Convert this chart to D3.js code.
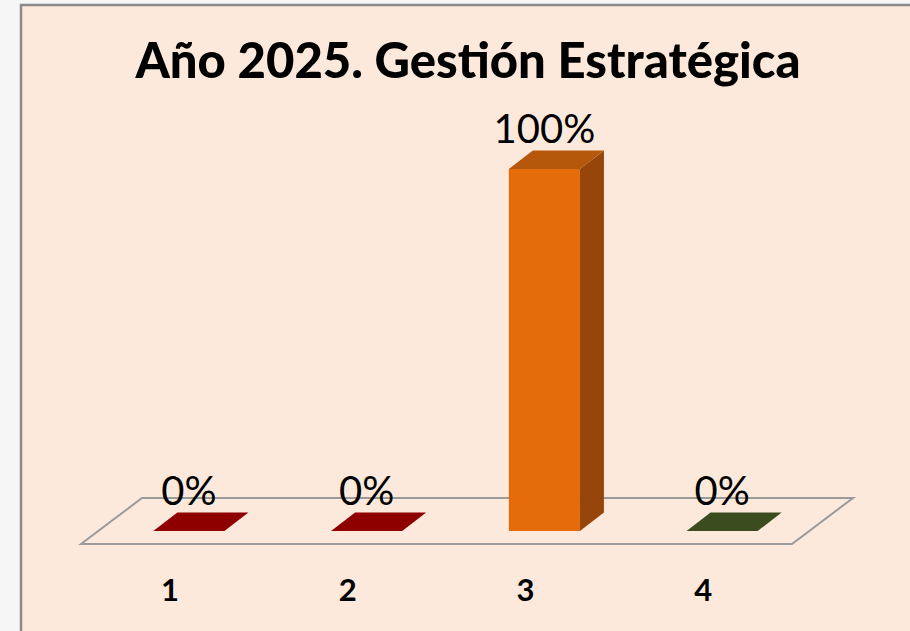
<!DOCTYPE html>
<html>
<head>
<meta charset="utf-8">
<script src="https://cdn.jsdelivr.net/npm/d3@7"></script>
<style>
  body { margin: 0; background: #f6f6f6; }
  svg { display: block; }
</style>
</head>
<body>
<script>
var categories = ["1", "2", "3", "4"];
var values = [0, 0, 1, 0];
var labels = ["0%", "0%", "100%", "0%"];
var colors = ["#8e0000", "#8e0000", "#e46c0a", "#3b4d1f"];
var sideColors = ["#6a0000", "#6a0000", "#96460a", "#2a3816"];
var topColors = ["#8e0000", "#8e0000", "#b5580c", "#3b4d1f"];

var svgWidth = 910;
var svgHeight = 631;

// floor geometry
var floorLeft = 81, floorRight = 792, floorY = 544;
var depthX = 61, depthY = 46;
// bar placement inside the floor depth
var frontDx = 19, frontDy = 13;
var barDx = 24, barDy = 18.5;

var svg = d3.select("body")
  .append("svg")
  .attr("width", svgWidth)
  .attr("height", svgHeight);

// chart area
svg.append("rect")
  .attr("x", 21)
  .attr("y", 5)
  .attr("width", svgWidth)
  .attr("height", svgHeight)
  .style("fill", "#fde9db")
  .style("stroke", "#8a8a8a")
  .style("stroke-width", 2.5);

svg.append("text")
  .attr("x", 468)
  .attr("y", 78)
  .attr("text-anchor", "middle")
  .style("font-family", "Lato, 'Open Sans', sans-serif")
  .style("font-weight", "900")
  .style("font-size", "49px")
  .style("fill", "#000")
  .text("Año 2025. Gestión Estratégica");

var xScale = d3.scaleBand()
  .domain(categories)
  .range([floorLeft, floorRight])
  .paddingInner(0.6)
  .paddingOuter(0.3);

var hScale = d3.scaleLinear()
  .domain([0, 1])
  .range([0, 362]);

// floor
svg.append("path")
  .attr("d", d3.line()([
    [floorLeft, floorY],
    [floorLeft + depthX, floorY - depthY],
    [floorRight + depthX, floorY - depthY],
    [floorRight, floorY]
  ]) + "Z")
  .style("fill", "none")
  .style("stroke", "#9a9a9a")
  .style("stroke-width", 2);

var bw = xScale.bandwidth();
var baseY = floorY - frontDy;

var bars = svg.selectAll(".bar")
  .data(categories)
  .enter()
  .append("g")
  .attr("class", "bar");

// front face
bars.filter(function(d, i) { return values[i] > 0; })
  .append("rect")
  .attr("x", function(d) { return xScale(d) + frontDx; })
  .attr("y", function(d) { return baseY - hScale(values[categories.indexOf(d)]); })
  .attr("width", bw)
  .attr("height", function(d) { return hScale(values[categories.indexOf(d)]); })
  .style("fill", function(d) { return colors[categories.indexOf(d)]; });

// side face
bars.filter(function(d, i) { return values[i] > 0; })
  .append("path")
  .attr("d", function(d) {
    var i = categories.indexOf(d);
    var x1 = xScale(d) + frontDx + bw;
    var yt = baseY - hScale(values[i]);
    return d3.line()([[x1, baseY], [x1, yt], [x1 + barDx, yt - barDy], [x1 + barDx, baseY - barDy]]) + "Z";
  })
  .style("fill", function(d) { return sideColors[categories.indexOf(d)]; });

// top face
bars.append("path")
  .attr("d", function(d) {
    var i = categories.indexOf(d);
    var x0 = xScale(d) + frontDx;
    var yt = baseY - hScale(values[i]);
    return d3.line()([[x0, yt], [x0 + barDx, yt - barDy], [x0 + bw + barDx, yt - barDy], [x0 + bw, yt]]) + "Z";
  })
  .style("fill", function(d) { return topColors[categories.indexOf(d)]; });

// value labels
bars.append("text")
  .attr("x", function(d) { return xScale(d) + frontDx + bw / 2; })
  .attr("y", function(d) { return baseY - hScale(values[categories.indexOf(d)]) - barDy - 7.5; })
  .attr("text-anchor", "middle")
  .style("font-family", "Lato, 'Open Sans', sans-serif")
  .style("font-size", "40px")
  .style("fill", "#000")
  .text(function(d) { return labels[categories.indexOf(d)]; });

// category axis
var axis = svg.append("g")
  .attr("transform", "translate(0," + 601 + ")")
  .call(d3.axisBottom(xScale).tickSize(0).tickPadding(0));

axis.select(".domain").remove();
axis.selectAll("text")
  .attr("dy", "0")
  .style("font-family", "Lato, 'Open Sans', sans-serif")
  .style("font-weight", "bold")
  .style("font-size", "31px")
  .style("fill", "#000");
</script>
</body>
</html>
